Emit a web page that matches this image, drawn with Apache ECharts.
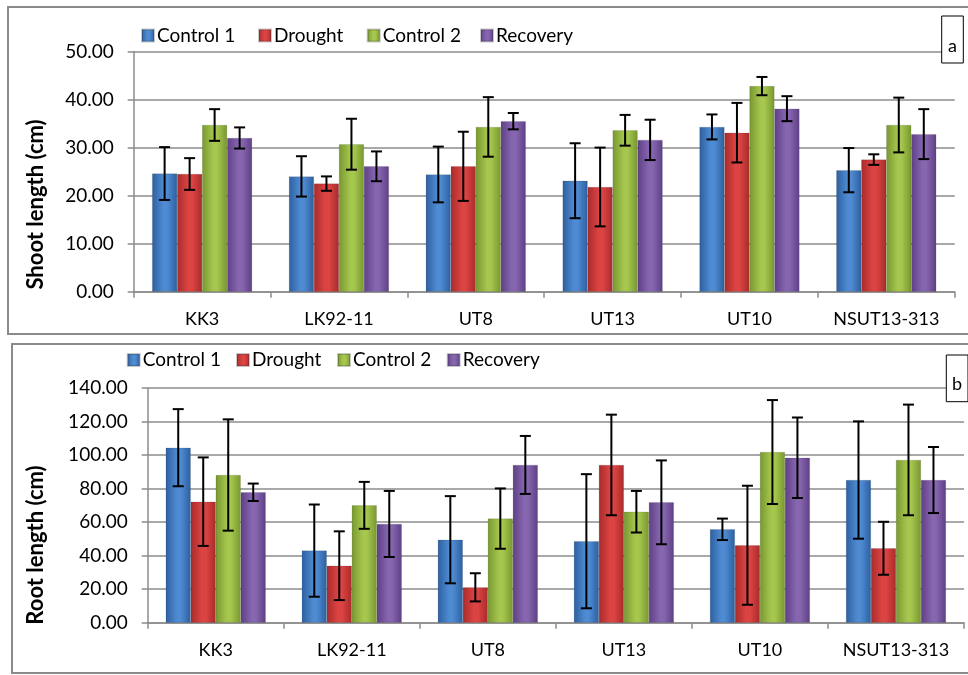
<!DOCTYPE html>
<html><head><meta charset="utf-8">
<script src="https://cdn.jsdelivr.net/npm/echarts@6/dist/echarts.min.js"></script>
<style>html,body{margin:0;padding:0;background:#fff}#c{width:968px;height:675px}</style>
</head><body><div id="c"></div>
<script>
const categories = ["KK3","LK92-11","UT8","UT13","UT10","NSUT13-313"];
const seriesNames = ["Control 1","Drought","Control 2","Recovery"];
const yTitles = ["Shoot length (cm)","Root length (cm)"];
// Shoot length (cm)
const shootControl1 = [24.6,24.0,24.4,23.1,34.3,25.3];
const shootDrought  = [24.5,22.5,26.1,21.8,33.1,27.5];
const shootControl2 = [34.7,30.7,34.3,33.6,42.8,34.7];
const shootRecovery = [32.0,26.1,35.5,31.6,38.1,32.8];
const shootErrC1 = [5.5,4.2,5.8,7.8,2.6,4.6];
const shootErrDr = [3.3,1.5,7.2,8.2,6.2,1.1];
const shootErrC2 = [3.3,5.3,6.2,3.2,1.9,5.7];
const shootErrRe = [2.2,3.1,1.7,4.2,2.6,5.2];
// Root length (cm)
const rootControl1 = [104.4,43.0,49.5,48.6,55.7,85.1];
const rootDrought  = [72.2,34.0,21.1,94.1,46.2,44.4];
const rootControl2 = [88.1,70.0,62.1,66.2,101.8,97.1];
const rootRecovery = [77.8,58.9,94.1,71.8,98.4,85.1];
const rootErrC1 = [23.0,27.5,26.0,40.0,6.4,35.0];
const rootErrDr = [26.4,20.5,8.4,30.0,35.5,15.8];
const rootErrC2 = [33.2,14.0,18.0,12.4,31.0,33.0];
const rootErrRe = [5.2,19.7,17.3,25.0,24.0,19.7];
const shootTicks = [0,10,20,30,40,50];
const rootTicks = [0,20,40,60,80,100,120,140];

const baseColors = [
  ['#2d5f9f','#4f8bd2','#2d5f9f'],
  ['#a82b2b','#dc4443','#a82b2b'],
  ['#789730','#a6c74e','#789730'],
  ['#5e4086','#8766b0','#5e4086']
];
function grad(i){
  const c = baseColors[i];
  return new echarts.graphic.LinearGradient(0,0,1,0,[
    {offset:0,color:c[0]},{offset:0.45,color:c[1]},{offset:0.6,color:c[1]},{offset:1,color:c[2]}]);
}
const FONT = 'Lato';
const shootVals = [shootControl1,shootDrought,shootControl2,shootRecovery];
const shootErrs = [shootErrC1,shootErrDr,shootErrC2,shootErrRe];
const rootVals = [rootControl1,rootDrought,rootControl2,rootRecovery];
const rootErrs = [rootErrC1,rootErrDr,rootErrC2,rootErrRe];
const BW = 25;

const chart = echarts.init(document.getElementById('c'));
const series = [];
function addSet(vals, errs, gi){
  vals.forEach((v,i)=>{
    series.push({type:'bar',name:seriesNames[i],xAxisIndex:gi,yAxisIndex:gi,data:v,
      barWidth:BW,barGap:'0%',itemStyle:{color:grad(i),borderColor:'rgba(40,40,40,0.25)',borderWidth:0.5},
      emphasis:{disabled:true},z:2});
  });
  vals.forEach((v,i)=>{
    const data = v.map((val,k)=>[k,val,errs[i][k]]);
    series.push({type:'custom',name:seriesNames[i],xAxisIndex:gi,yAxisIndex:gi,data:data,z:5,silent:true,
      renderItem:function(params,api){
        const k=api.value(0), val=api.value(1), e=api.value(2);
        const off=(i-1.5)*BW;
        const hi=api.coord([k,val+e]), lo=api.coord([k,val-e]);
        const x=hi[0]+off, cw=5.5;
        const st={stroke:'#000',lineWidth:2};
        return {type:'group',children:[
          {type:'line',shape:{x1:x,y1:hi[1],x2:x,y2:lo[1]},style:st},
          {type:'line',shape:{x1:x-cw,y1:hi[1],x2:x+cw,y2:hi[1]},style:st},
          {type:'line',shape:{x1:x-cw,y1:lo[1],x2:x+cw,y2:lo[1]},style:st}
        ]};
      }});
  });
}
addSet(shootVals,shootErrs,0);
addSet(rootVals,rootErrs,1);

const legPosTop = [[141,37],[258,37],[366.7,37],[480,37]];
const legPosBot = [[126.7,361.5],[236,361.5],[337,361.5],[446.7,361.5]];
const legends = [];
[legPosTop,legPosBot].forEach(pos=>{
  pos.forEach((p,i)=>{
    legends.push({left:p[0],top:p[1]-11,padding:0,itemWidth:12,itemHeight:12,itemGap:0,icon:'rect',
      data:[{name:seriesNames[i],itemStyle:{color:grad(i)}}],selectedMode:false,
      textStyle:{fontFamily:FONT,fontSize:19,color:'#000',padding:[0,0,0,-2]}});
  });
});

function yAxis(gi, max, interval){
  return {gridIndex:gi,type:'value',min:0,max:max,interval:interval,
    axisLine:{show:true,lineStyle:{color:'#8c8c8c',width:1.5}},
    axisTick:{show:true,length:6,lineStyle:{color:'#8c8c8c',width:1.5}},
    axisLabel:{fontFamily:FONT,fontSize:19,color:'#000',margin:20,formatter:v=>v.toFixed(2)},
    splitLine:{show:true,lineStyle:{color:'#8c8c8c',width:1.5}}};
}
function xAxis(gi){
  return {gridIndex:gi,type:'category',data:categories,
    axisLine:{show:true,lineStyle:{color:'#8c8c8c',width:1.5}},
    axisTick:{show:true,length:6,interval:0,lineStyle:{color:'#8c8c8c',width:1.5}},
    axisLabel:{interval:0,hideOverlap:false,fontFamily:FONT,fontSize:18,color:'#000',margin:18}};
}
function yTitle(text, x, y){
  return {type:'text',x:x,y:y,rotation:Math.PI/2,silent:true,z:10,
    style:{text:text,fontFamily:FONT,fontSize:22,fontWeight:'bold',fill:'#000',textAlign:'center',textVerticalAlign:'middle'}};
}

chart.setOption({
  animation:false,
  legend:legends,
  grid:[{left:133.7,top:51.5,width:821,height:240.2},
        {left:147.7,top:388,width:816.3,height:234.7}],
  xAxis:[xAxis(0),xAxis(1)],
  yAxis:[yAxis(0,50,10),yAxis(1,140,20)],
  series:series,
  graphic:[
    {type:'rect',shape:{x:8,y:7,width:975,height:327},style:{fill:'none',stroke:'#8a8a8a',lineWidth:2},z:0,silent:true},
    {type:'rect',shape:{x:12,y:344,width:975,height:329},style:{fill:'none',stroke:'#8a8a8a',lineWidth:2},z:0,silent:true},
    yTitle(yTitles[0],36,204.5),
    yTitle(yTitles[1],36,545),
    {type:'rect',shape:{x:941.7,y:16,width:21.6,height:47},style:{fill:'#fff',stroke:'#000',lineWidth:1},z:100,silent:true},
    {type:'text',x:952.5,y:46,style:{text:'a',fontFamily:FONT,fontSize:18,fill:'#000',textAlign:'center',textVerticalAlign:'middle'},z:101,silent:true},
    {type:'rect',shape:{x:946.3,y:355,width:21.7,height:46.7},style:{fill:'#fff',stroke:'#000',lineWidth:1},z:100,silent:true},
    {type:'text',x:957,y:384,style:{text:'b',fontFamily:FONT,fontSize:18,fill:'#000',textAlign:'center',textVerticalAlign:'middle'},z:101,silent:true}
  ]
});
</script></body></html>
